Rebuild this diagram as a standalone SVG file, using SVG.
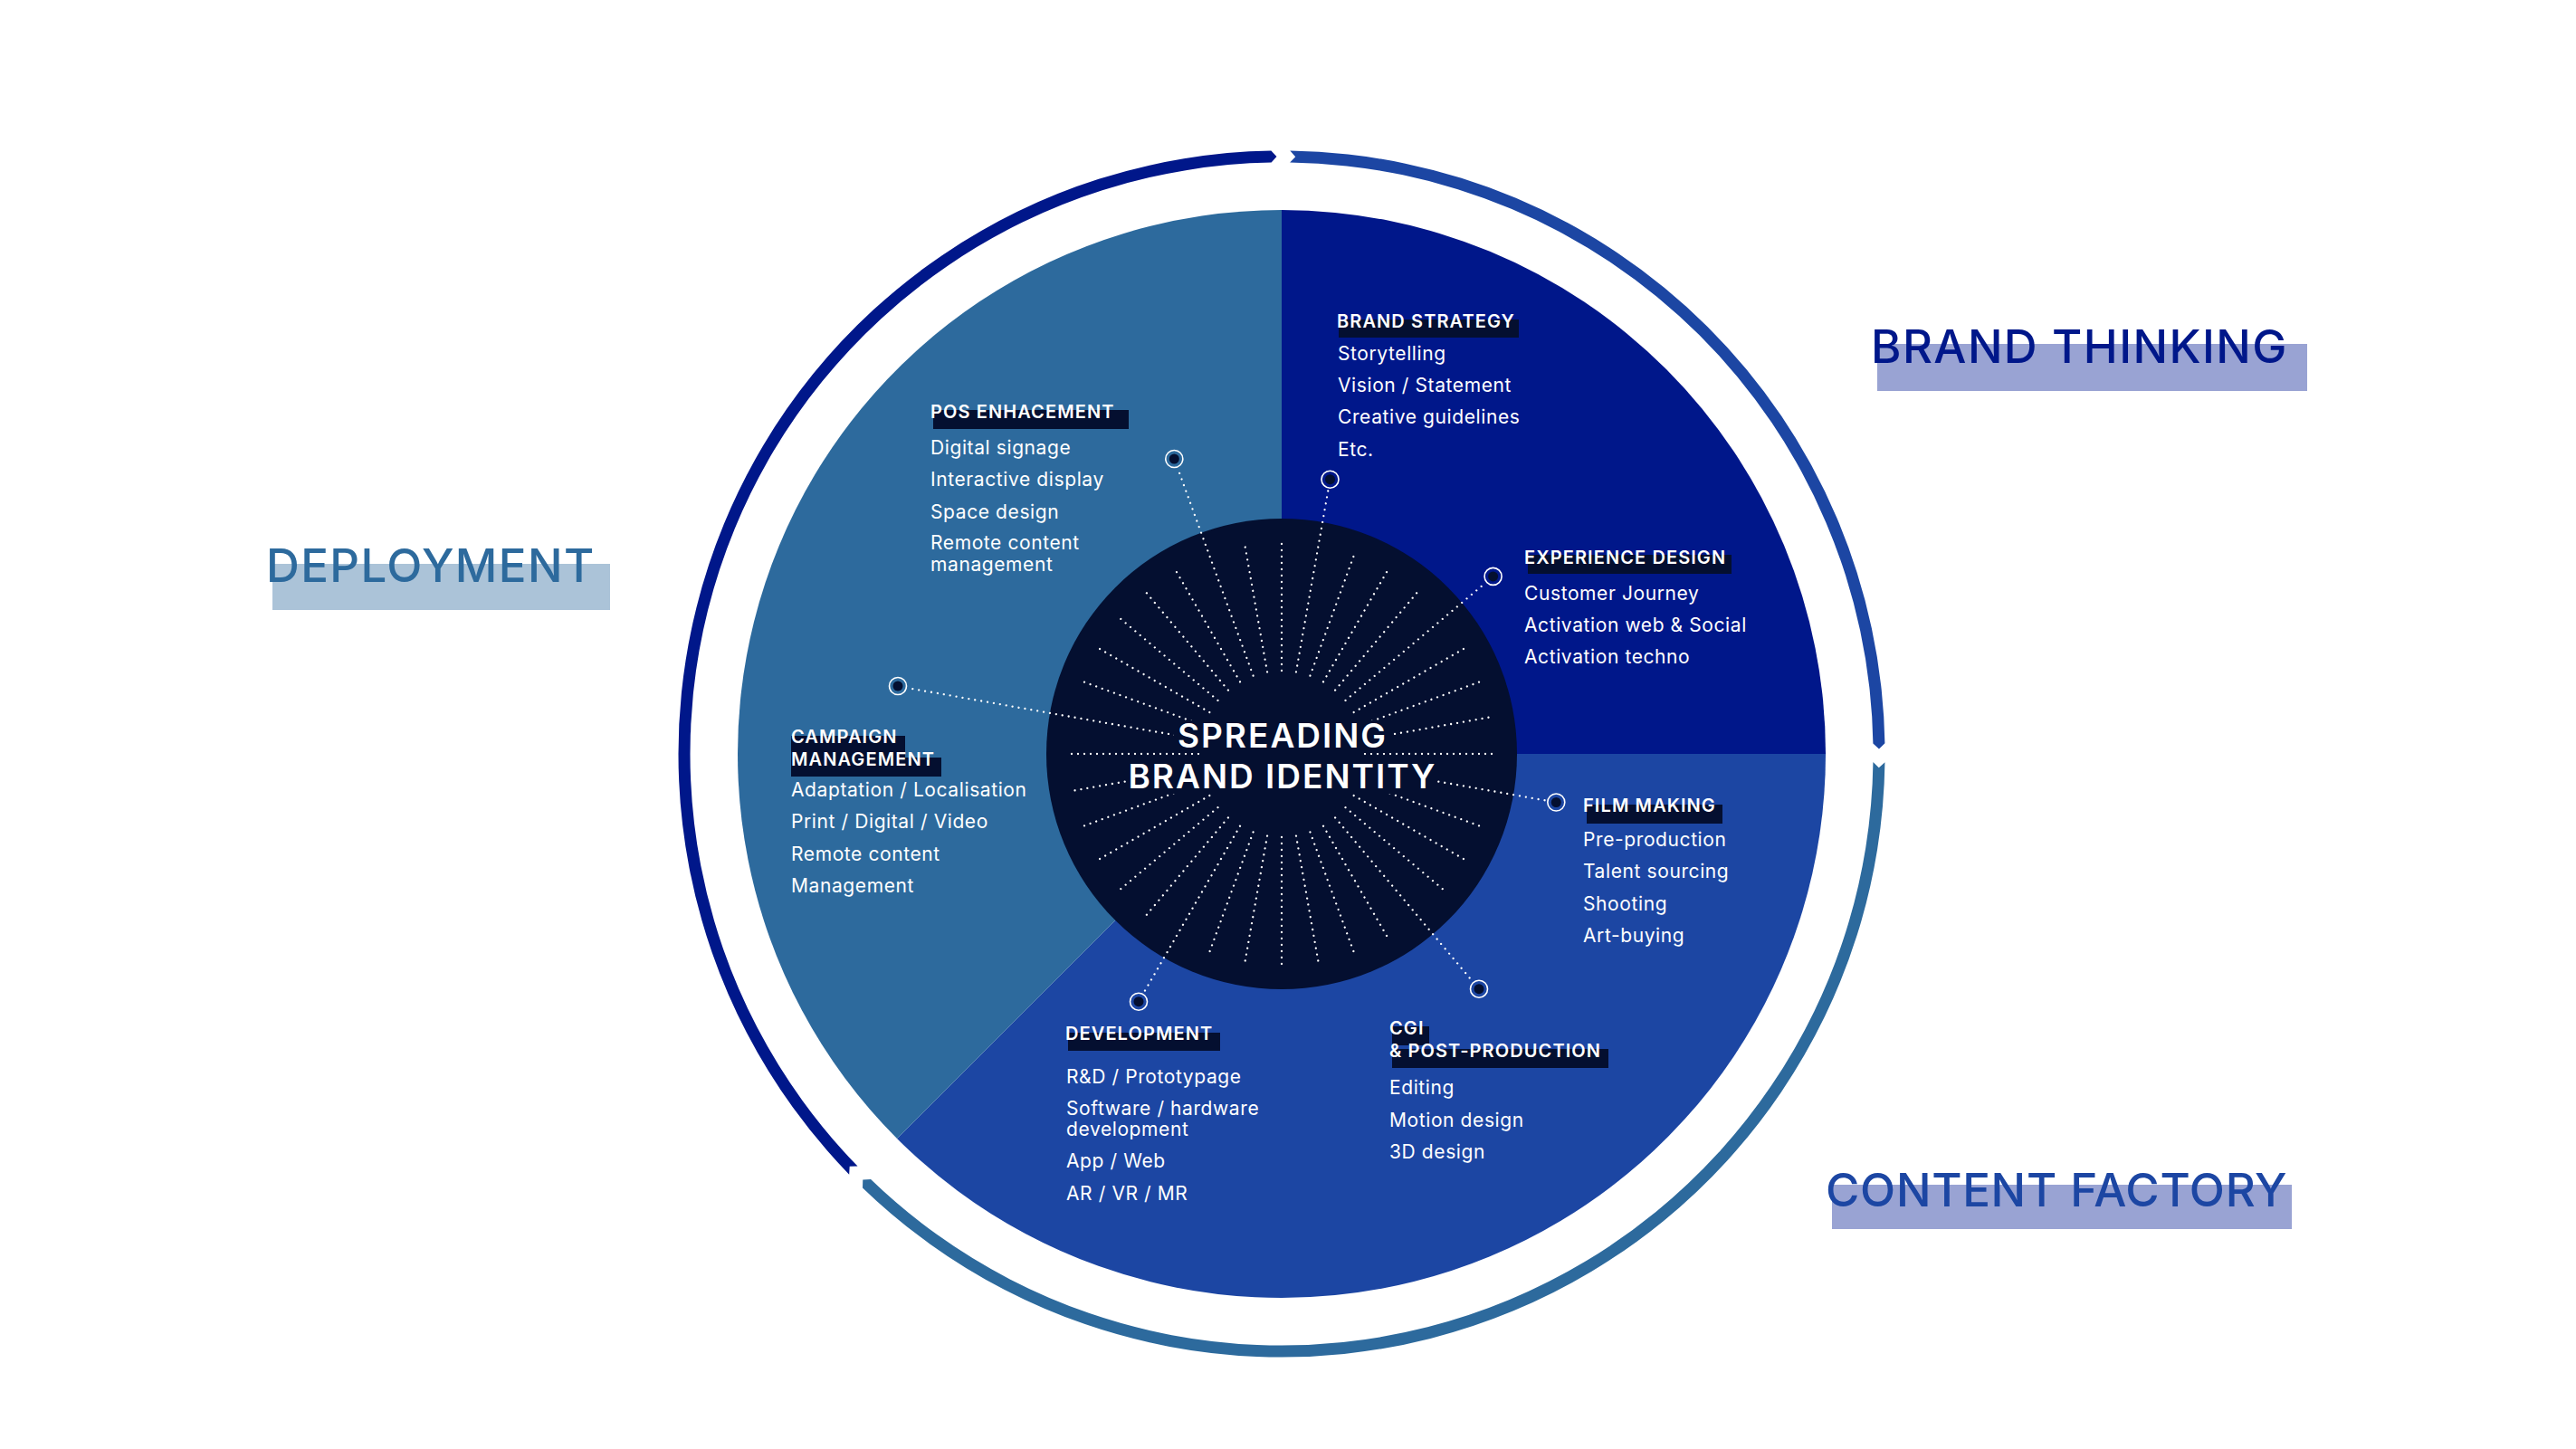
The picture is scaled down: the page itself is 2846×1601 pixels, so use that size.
<svg xmlns="http://www.w3.org/2000/svg" xmlns:xlink="http://www.w3.org/1999/xlink" width="2846" height="1601" viewBox="0 0 2846 1601">
<style>
  text { font-family: "Inter", "Liberation Sans", sans-serif; }
  .hd { font-size: 20px; font-weight: 600; fill: #ffffff; letter-spacing: 1.1px; }
  .it { font-size: 21px; font-weight: 400; fill: #ffffff; letter-spacing: 0.6px; }
  .hbg { fill: #040f30; }
  .ray { stroke: #ffffff; stroke-width: 2.3; stroke-dasharray: 0 7; stroke-linecap: round; fill: none; }
  .dotring { fill: none; stroke: #ffffff; stroke-width: 1.6; }
  .dotcore { fill: #040f30; }
  .big { font-size: 51px; font-weight: 500; letter-spacing: 1.4px; }
  .ctr { font-size: 37px; font-weight: 600; fill: #ffffff; text-anchor: middle; letter-spacing: 2px; }
</style>
<defs>
  <line id="ray" x1="0" y1="-92" x2="0" y2="-236"/>
</defs>
<rect width="2846" height="1601" fill="#ffffff"/>

<!-- outer ring arrows -->
<g id="ring">
  <path d="M 938.18 1297.66 A 666.5 666.5 0 0 1 1404.37 166.60 L 1410.47 173.03 L 1404.59 179.60 A 653.5 653.5 0 0 0 947.50 1288.60 L 938.67 1288.81 Z" fill="#00178a"/>
  <path d="M 1425.30 166.57 A 666.5 666.5 0 0 1 2082.40 821.37 L 2075.97 827.47 L 2069.40 821.59 A 653.5 653.5 0 0 0 1425.12 179.57 L 1431.21 173.18 Z" fill="#1c46a3"/>
  <path d="M 2082.43 842.31 A 666.5 666.5 0 0 1 953.01 1312.44 L 953.26 1303.61 L 962.04 1303.09 A 653.5 653.5 0 0 0 2069.43 842.12 L 2075.82 848.20 Z" fill="#2d6a9d"/>
</g>

<!-- pie sectors -->
<g id="sectors">
  <path d="M 1416 833 L 1416 232 A 601 601 0 0 1 2017 833 Z" fill="#00178a"/>
  <path d="M 1416 833 L 2017 833 A 601 601 0 0 1 991.03 1257.97 Z" fill="#1c46a3"/>
  <path d="M 1416 833 L 991.03 1257.97 A 601 601 0 0 1 1416 232 Z" fill="#2d6a9d"/>
</g>

<!-- center circle with rays -->
<g id="center">
  <circle cx="1416" cy="833" r="260" fill="#040f30"/>
  <g class="ray" transform="translate(1416 833)">
    <use xlink:href="#ray" transform="rotate(0)"/>
    <use xlink:href="#ray" transform="rotate(20)"/>
    <use xlink:href="#ray" transform="rotate(30)"/>
    <use xlink:href="#ray" transform="rotate(40)"/>
    <use xlink:href="#ray" transform="rotate(60)"/>
    <use xlink:href="#ray" transform="rotate(70)"/>
    <use xlink:href="#ray" transform="rotate(80)"/>
    <use xlink:href="#ray" transform="rotate(90)"/>
    <use xlink:href="#ray" transform="rotate(110)"/>
    <use xlink:href="#ray" transform="rotate(120)"/>
    <use xlink:href="#ray" transform="rotate(130)"/>
    <use xlink:href="#ray" transform="rotate(150)"/>
    <use xlink:href="#ray" transform="rotate(160)"/>
    <use xlink:href="#ray" transform="rotate(170)"/>
    <use xlink:href="#ray" transform="rotate(180)"/>
    <use xlink:href="#ray" transform="rotate(190)"/>
    <use xlink:href="#ray" transform="rotate(200)"/>
    <use xlink:href="#ray" transform="rotate(220)"/>
    <use xlink:href="#ray" transform="rotate(230)"/>
    <use xlink:href="#ray" transform="rotate(240)"/>
    <use xlink:href="#ray" transform="rotate(250)"/>
    <use xlink:href="#ray" transform="rotate(260)"/>
    <use xlink:href="#ray" transform="rotate(270)"/>
    <use xlink:href="#ray" transform="rotate(290)"/>
    <use xlink:href="#ray" transform="rotate(300)"/>
    <use xlink:href="#ray" transform="rotate(310)"/>
    <use xlink:href="#ray" transform="rotate(320)"/>
    <use xlink:href="#ray" transform="rotate(330)"/>
    <use xlink:href="#ray" transform="rotate(350)"/>
  </g>
</g>

<!-- connectors -->
<g id="connectors" class="ray" transform="translate(1416 833)">
  <line x1="0" y1="-92" x2="0" y2="-298" transform="rotate(10)"/>
  <line x1="0" y1="-92" x2="0" y2="-295" transform="rotate(50)"/>
  <line x1="0" y1="-92" x2="0" y2="-298" transform="rotate(100)"/>
  <line x1="0" y1="-92" x2="0" y2="-329" transform="rotate(140)"/>
  <line x1="0" y1="-92" x2="0" y2="-306" transform="rotate(210)"/>
  <line x1="0" y1="-92" x2="0" y2="-421" transform="rotate(280)"/>
  <line x1="0" y1="-92" x2="0" y2="-337" transform="rotate(340)"/>
</g>

<!-- center title -->
<g id="title">
  <rect x="1297" y="796" width="240" height="36" fill="#040f30"/>
  <rect x="1247" y="841" width="338" height="36" fill="#040f30"/>
  <text class="ctr" x="1417" y="826">SPREADING</text>
  <text class="ctr" x="1417" y="871">BRAND IDENTITY</text>
</g>

<!-- nodes -->
<g id="brand-strategy">
  <circle class="dotring" cx="1469.5" cy="529.7" r="9.5"/>
  <circle class="dotcore" cx="1469.5" cy="529.7" r="5.5"/>
  <rect class="hbg" x="1479" y="353" width="199" height="20"/>
  <text class="hd" x="1477" y="362">BRAND STRATEGY</text>
  <text class="it" x="1478" y="398">Storytelling</text>
  <text class="it" x="1478" y="433">Vision / Statement</text>
  <text class="it" x="1478" y="468">Creative guidelines</text>
  <text class="it" x="1478" y="504">Etc.</text>
</g>

<g id="experience-design">
  <circle class="dotring" cx="1649.6" cy="636.9" r="9.5"/>
  <circle class="dotcore" cx="1649.6" cy="636.9" r="5.5"/>
  <rect class="hbg" x="1688" y="613" width="225" height="21"/>
  <text class="hd" x="1684" y="623">EXPERIENCE DESIGN</text>
  <text class="it" x="1684" y="663">Customer Journey</text>
  <text class="it" x="1684" y="698">Activation web &amp; Social</text>
  <text class="it" x="1684" y="733">Activation techno</text>
</g>

<g id="film-making">
  <circle class="dotring" cx="1719.3" cy="886.5" r="9.5"/>
  <circle class="dotcore" cx="1719.3" cy="886.5" r="5.5"/>
  <rect class="hbg" x="1753" y="889" width="150" height="21"/>
  <text class="hd" x="1749" y="897">FILM MAKING</text>
  <text class="it" x="1749" y="935">Pre-production</text>
  <text class="it" x="1749" y="970">Talent sourcing</text>
  <text class="it" x="1749" y="1006">Shooting</text>
  <text class="it" x="1749" y="1041">Art-buying</text>
</g>

<g id="cgi-post-production">
  <circle class="dotring" cx="1634" cy="1092.7" r="9.5"/>
  <circle class="dotcore" cx="1634" cy="1092.7" r="5.5"/>
  <rect class="hbg" x="1538" y="1134" width="41" height="21"/>
  <rect class="hbg" x="1538" y="1159" width="239" height="21"/>
  <text class="hd" x="1535" y="1143">CGI</text>
  <text class="hd" x="1535" y="1168">&amp; POST-PRODUCTION</text>
  <text class="it" x="1535" y="1209">Editing</text>
  <text class="it" x="1535" y="1245">Motion design</text>
  <text class="it" x="1535" y="1280">3D design</text>
</g>

<g id="development">
  <circle class="dotring" cx="1258" cy="1106.7" r="9.5"/>
  <circle class="dotcore" cx="1258" cy="1106.7" r="5.5"/>
  <rect class="hbg" x="1180" y="1141" width="168" height="20"/>
  <text class="hd" x="1177" y="1149">DEVELOPMENT</text>
  <text class="it" x="1178" y="1197">R&amp;D / Prototypage</text>
  <text class="it" x="1178" y="1232">Software / hardware</text>
  <text class="it" x="1178" y="1255">development</text>
  <text class="it" x="1178" y="1290">App / Web</text>
  <text class="it" x="1178" y="1326">AR / VR / MR</text>
</g>

<g id="campaign-management">
  <circle class="dotring" cx="992" cy="758" r="9.5"/>
  <circle class="dotcore" cx="992" cy="758" r="5.5"/>
  <rect class="hbg" x="874" y="813" width="126" height="24"/>
  <rect class="hbg" x="874" y="837" width="166" height="21"/>
  <text class="hd" x="874" y="821">CAMPAIGN</text>
  <text class="hd" x="874" y="846">MANAGEMENT</text>
  <text class="it" x="874" y="880">Adaptation / Localisation</text>
  <text class="it" x="874" y="915">Print / Digital / Video</text>
  <text class="it" x="874" y="951">Remote content</text>
  <text class="it" x="874" y="986">Management</text>
</g>

<g id="pos-enhacement">
  <circle class="dotring" cx="1297.3" cy="507" r="9.5"/>
  <circle class="dotcore" cx="1297.3" cy="507" r="5.5"/>
  <rect class="hbg" x="1031" y="453" width="216" height="21"/>
  <text class="hd" x="1028" y="462">POS ENHACEMENT</text>
  <text class="it" x="1028" y="502">Digital signage</text>
  <text class="it" x="1028" y="537">Interactive display</text>
  <text class="it" x="1028" y="573">Space design</text>
  <text class="it" x="1028" y="607">Remote content</text>
  <text class="it" x="1028" y="631">management</text>
</g>

<!-- category labels -->
<g id="brand-thinking">
  <rect x="2074" y="380" width="475" height="52" fill="#99a3d3"/>
  <text class="big" x="2067" y="401" fill="#00178a">BRAND THINKING</text>
</g>
<g id="deployment">
  <rect x="301" y="623" width="373" height="51" fill="#abc3d8"/>
  <text class="big" x="294" y="643" fill="#2d6a9d">DEPLOYMENT</text>
</g>
<g id="content-factory">
  <rect x="2024" y="1309" width="508" height="49" fill="#99a3d3"/>
  <text class="big" x="2017" y="1333" fill="#1c46a3" style="letter-spacing:0.7px">CONTENT FACTORY</text>
</g>
</svg>
